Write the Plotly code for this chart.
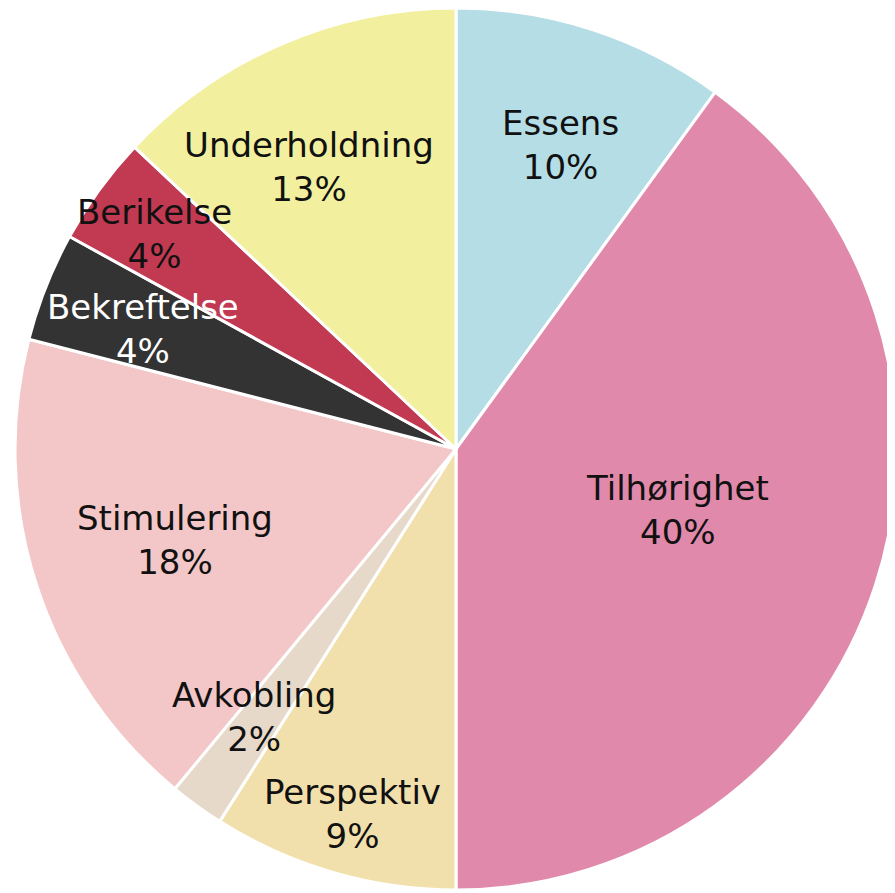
import math
import plotly.graph_objects as go

labels = ["Essens", "Tilhørighet", "Perspektiv", "Avkobling", "Stimulering",
          "Bekreftelse", "Berikelse", "Underholdning"]
values = [10, 40, 9, 2, 18, 4, 4, 13]

# styling
colors = ["#b4dde6", "#e089aa", "#f1e0ac", "#e6d9c9", "#f3c7c7",
          "#333333", "#c13a52", "#f2ef9e"]
text_colors = ["#111111", "#111111", "#111111", "#111111", "#111111",
               "#ffffff", "#111111", "#111111"]
label_radius = [0.73, 0.52, 0.86, 0.76, 0.67, 0.76, 0.84, 0.72]   # fraction of pie radius
label_angle_shift = [1, -2.6, -0.4, 1, 0, -0.6, -0.5, -4.1]      # degrees

W, H = 895, 893
dom_x = [0.00782, 0.99330]
dom_y = [0.01232, 1.0]

fig = go.Figure(go.Pie(
    labels=labels,
    values=values,
    sort=False,
    direction="clockwise",
    rotation=0,
    marker=dict(colors=colors, line=dict(color="white", width=3)),
    textinfo="none",
    domain=dict(x=dom_x, y=dom_y),
    hoverinfo="label+percent",
    showlegend=False,
))

# label placement derived from slice angles
total = sum(values)
cx = (dom_x[0] + dom_x[1]) / 2
cy = (dom_y[0] + dom_y[1]) / 2
R_px = min((dom_x[1] - dom_x[0]) * W, (dom_y[1] - dom_y[0]) * H) / 2
cum = 0
for lab, v, tc, rf, sh in zip(labels, values, text_colors, label_radius, label_angle_shift):
    mid = (cum + v / 2) / total * 360 + sh
    cum += v
    a = math.radians(mid)
    x = cx + rf * R_px * math.sin(a) / W
    y = cy + rf * R_px * math.cos(a) / H
    pct = round(100 * v / total)
    fig.add_annotation(
        x=x, y=y, xref="paper", yref="paper",
        text=f"{lab}<br>{pct}%",
        showarrow=False,
        font=dict(family="DejaVu Sans", size=34, color=tc),
        xanchor="center", yanchor="middle", align="center",
    )

fig.update_layout(
    width=W, height=H,
    margin=dict(l=0, r=0, t=0, b=0),
    paper_bgcolor="white",
)

fig.write_html("out.html")
